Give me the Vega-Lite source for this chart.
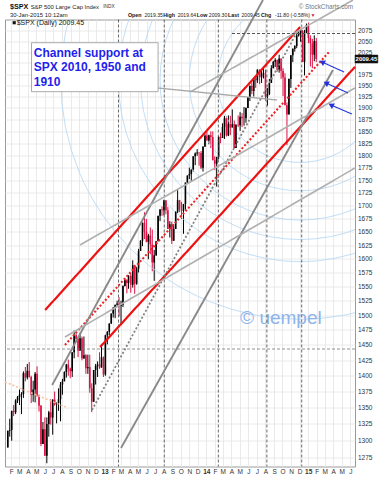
{
"$schema":"https://vega.github.io/schema/vega-lite/v6.json",
"width":350,"height":447,
"autosize":{"type":"none"},
"padding":{"left":5,"top":19.5,"right":28,"bottom":13.5},
"background":"white",
"config":{"font":"Liberation Sans","view":{"stroke":"#9a9a9a","strokeWidth":1}},
"datasets":{
"px":[
{"d":"2012-01-20","o":1290,"h":1315,"l":1290,"c":1315},{"d":"2012-01-27","o":1315,"h":1333,"l":1306,"c":1316},{"d":"2012-02-03","o":1316,"h":1345,"l":1300,"c":1345},{"d":"2012-02-10","o":1345,"h":1354,"l":1337,"c":1343},{"d":"2012-02-17","o":1343,"h":1363,"l":1340,"c":1361},{"d":"2012-02-24","o":1361,"h":1368,"l":1357,"c":1366},{"d":"2012-03-02","o":1366,"h":1378,"l":1354,"c":1370},{"d":"2012-03-09","o":1370,"h":1374,"l":1340,"c":1371},{"d":"2012-03-16","o":1371,"h":1407,"l":1365,"c":1404},{"d":"2012-03-23","o":1404,"h":1414,"l":1391,"c":1397},{"d":"2012-03-30","o":1397,"h":1419,"l":1394,"c":1408},{"d":"2012-04-06","o":1408,"h":1422,"l":1397,"c":1398},{"d":"2012-04-13","o":1398,"h":1400,"l":1357,"c":1370},{"d":"2012-04-20","o":1370,"h":1392,"l":1359,"c":1378},{"d":"2012-04-27","o":1378,"h":1406,"l":1358,"c":1403},{"d":"2012-05-04","o":1403,"h":1415,"l":1367,"c":1369},{"d":"2012-05-11","o":1369,"h":1370,"l":1344,"c":1353},{"d":"2012-05-18","o":1353,"h":1354,"l":1292,"c":1295},{"d":"2012-05-25","o":1295,"h":1328,"l":1295,"c":1317},{"d":"2012-06-01","o":1317,"h":1335,"l":1278,"c":1278},{"d":"2012-06-08","o":1278,"h":1335,"l":1267,"c":1325},{"d":"2012-06-15","o":1325,"h":1345,"l":1306,"c":1343},{"d":"2012-06-22","o":1343,"h":1363,"l":1324,"c":1335},{"d":"2012-06-29","o":1335,"h":1363,"l":1309,"c":1362},{"d":"2012-07-06","o":1362,"h":1375,"l":1353,"c":1355},{"d":"2012-07-13","o":1355,"h":1358,"l":1326,"c":1357},{"d":"2012-07-20","o":1357,"h":1380,"l":1345,"c":1363},{"d":"2012-07-27","o":1363,"h":1390,"l":1329,"c":1386},{"d":"2012-08-03","o":1386,"h":1395,"l":1370,"c":1391},{"d":"2012-08-10","o":1391,"h":1407,"l":1391,"c":1406},{"d":"2012-08-17","o":1406,"h":1419,"l":1397,"c":1418},{"d":"2012-08-24","o":1418,"h":1426,"l":1400,"c":1411},{"d":"2012-08-31","o":1411,"h":1413,"l":1396,"c":1407},{"d":"2012-09-07","o":1407,"h":1438,"l":1398,"c":1438},{"d":"2012-09-14","o":1438,"h":1474,"l":1428,"c":1466},{"d":"2012-09-21","o":1466,"h":1470,"l":1454,"c":1460},{"d":"2012-09-28","o":1460,"h":1460,"l":1430,"c":1441},{"d":"2012-10-05","o":1441,"h":1470,"l":1440,"c":1461},{"d":"2012-10-12","o":1461,"h":1464,"l":1425,"c":1428},{"d":"2012-10-19","o":1428,"h":1464,"l":1427,"c":1433},{"d":"2012-10-26","o":1433,"h":1435,"l":1403,"c":1412},{"d":"2012-11-02","o":1412,"h":1434,"l":1403,"c":1414},{"d":"2012-11-09","o":1414,"h":1434,"l":1373,"c":1380},{"d":"2012-11-16","o":1380,"h":1388,"l":1343,"c":1359},{"d":"2012-11-23","o":1359,"h":1409,"l":1359,"c":1409},{"d":"2012-11-30","o":1409,"h":1419,"l":1386,"c":1416},{"d":"2012-12-07","o":1416,"h":1423,"l":1398,"c":1418},{"d":"2012-12-14","o":1418,"h":1438,"l":1411,"c":1413},{"d":"2012-12-21","o":1413,"h":1448,"l":1413,"c":1430},{"d":"2012-12-28","o":1430,"h":1431,"l":1398,"c":1402},
{"d":"2013-01-04","o":1402,"h":1467,"l":1400,"c":1466},{"d":"2013-01-11","o":1466,"h":1473,"l":1451,"c":1472},{"d":"2013-01-18","o":1472,"h":1486,"l":1466,"c":1486},{"d":"2013-01-25","o":1486,"h":1503,"l":1485,"c":1503},{"d":"2013-02-01","o":1503,"h":1514,"l":1496,"c":1513},{"d":"2013-02-08","o":1513,"h":1518,"l":1495,"c":1518},{"d":"2013-02-15","o":1518,"h":1525,"l":1514,"c":1520},{"d":"2013-02-22","o":1520,"h":1531,"l":1498,"c":1516},{"d":"2013-03-01","o":1516,"h":1525,"l":1485,"c":1518},{"d":"2013-03-08","o":1518,"h":1552,"l":1514,"c":1551},{"d":"2013-03-15","o":1551,"h":1564,"l":1550,"c":1561},{"d":"2013-03-22","o":1561,"h":1563,"l":1538,"c":1556},{"d":"2013-03-28","o":1556,"h":1570,"l":1546,"c":1569},{"d":"2013-04-05","o":1569,"h":1573,"l":1539,"c":1553},{"d":"2013-04-12","o":1553,"h":1597,"l":1548,"c":1588},{"d":"2013-04-19","o":1588,"h":1589,"l":1537,"c":1555},{"d":"2013-04-26","o":1555,"h":1585,"l":1553,"c":1582},{"d":"2013-05-03","o":1582,"h":1618,"l":1575,"c":1614},{"d":"2013-05-10","o":1614,"h":1634,"l":1614,"c":1633},{"d":"2013-05-17","o":1633,"h":1667,"l":1623,"c":1667},{"d":"2013-05-24","o":1667,"h":1687,"l":1636,"c":1650},{"d":"2013-05-31","o":1650,"h":1674,"l":1630,"c":1631},{"d":"2013-06-07","o":1631,"h":1646,"l":1599,"c":1643},{"d":"2013-06-14","o":1643,"h":1658,"l":1608,"c":1626},{"d":"2013-06-21","o":1626,"h":1654,"l":1577,"c":1593},{"d":"2013-06-28","o":1593,"h":1616,"l":1560,"c":1606},{"d":"2013-07-05","o":1606,"h":1632,"l":1605,"c":1632},{"d":"2013-07-12","o":1632,"h":1680,"l":1632,"c":1680},{"d":"2013-07-19","o":1680,"h":1693,"l":1670,"c":1692},{"d":"2013-07-26","o":1692,"h":1698,"l":1680,"c":1691},{"d":"2013-08-02","o":1691,"h":1710,"l":1681,"c":1710},{"d":"2013-08-09","o":1710,"h":1710,"l":1683,"c":1691},{"d":"2013-08-16","o":1691,"h":1697,"l":1655,"c":1655},{"d":"2013-08-23","o":1655,"h":1670,"l":1639,"c":1664},{"d":"2013-08-30","o":1664,"h":1669,"l":1627,"c":1633},{"d":"2013-09-06","o":1633,"h":1664,"l":1633,"c":1655},{"d":"2013-09-13","o":1655,"h":1689,"l":1655,"c":1688},{"d":"2013-09-20","o":1688,"h":1730,"l":1685,"c":1710},{"d":"2013-09-27","o":1710,"h":1711,"l":1687,"c":1692},{"d":"2013-10-04","o":1692,"h":1707,"l":1674,"c":1690},{"d":"2013-10-11","o":1690,"h":1703,"l":1646,"c":1703},{"d":"2013-10-18","o":1703,"h":1745,"l":1692,"c":1745},{"d":"2013-10-25","o":1745,"h":1759,"l":1742,"c":1759},{"d":"2013-11-01","o":1759,"h":1775,"l":1752,"c":1762},{"d":"2013-11-08","o":1762,"h":1771,"l":1747,"c":1771},{"d":"2013-11-15","o":1771,"h":1798,"l":1767,"c":1798},{"d":"2013-11-22","o":1798,"h":1806,"l":1780,"c":1804},{"d":"2013-11-29","o":1804,"h":1813,"l":1799,"c":1806},{"d":"2013-12-06","o":1806,"h":1806,"l":1779,"c":1805},{"d":"2013-12-13","o":1805,"h":1809,"l":1772,"c":1775},{"d":"2013-12-20","o":1775,"h":1819,"l":1767,"c":1818},{"d":"2013-12-27","o":1818,"h":1844,"l":1818,"c":1841},
{"d":"2014-01-03","o":1841,"h":1849,"l":1831,"c":1831},{"d":"2014-01-10","o":1831,"h":1843,"l":1823,"c":1842},{"d":"2014-01-17","o":1842,"h":1850,"l":1815,"c":1838},{"d":"2014-01-24","o":1838,"h":1850,"l":1790,"c":1790},{"d":"2014-01-31","o":1790,"h":1798,"l":1770,"c":1783},{"d":"2014-02-07","o":1783,"h":1793,"l":1737,"c":1797},{"d":"2014-02-14","o":1797,"h":1840,"l":1792,"c":1838},{"d":"2014-02-21","o":1838,"h":1847,"l":1825,"c":1836},{"d":"2014-02-28","o":1836,"h":1867,"l":1836,"c":1859},{"d":"2014-03-07","o":1859,"h":1883,"l":1834,"c":1878},{"d":"2014-03-14","o":1878,"h":1882,"l":1839,"c":1841},{"d":"2014-03-21","o":1841,"h":1884,"l":1840,"c":1866},{"d":"2014-03-28","o":1866,"h":1883,"l":1842,"c":1858},{"d":"2014-04-04","o":1858,"h":1897,"l":1858,"c":1865},{"d":"2014-04-11","o":1865,"h":1873,"l":1815,"c":1815},{"d":"2014-04-17","o":1815,"h":1865,"l":1815,"c":1864},{"d":"2014-04-25","o":1864,"h":1884,"l":1859,"c":1863},{"d":"2014-05-02","o":1863,"h":1891,"l":1851,"c":1881},{"d":"2014-05-09","o":1881,"h":1889,"l":1859,"c":1878},{"d":"2014-05-16","o":1878,"h":1902,"l":1862,"c":1878},{"d":"2014-05-23","o":1878,"h":1901,"l":1868,"c":1900},{"d":"2014-05-30","o":1900,"h":1924,"l":1900,"c":1924},{"d":"2014-06-06","o":1924,"h":1949,"l":1915,"c":1949},{"d":"2014-06-13","o":1949,"h":1956,"l":1930,"c":1937},{"d":"2014-06-20","o":1937,"h":1963,"l":1925,"c":1963},{"d":"2014-06-27","o":1963,"h":1968,"l":1944,"c":1961},{"d":"2014-07-03","o":1961,"h":1985,"l":1955,"c":1985},{"d":"2014-07-11","o":1985,"h":1985,"l":1952,"c":1968},{"d":"2014-07-18","o":1968,"h":1984,"l":1955,"c":1978},{"d":"2014-07-25","o":1978,"h":1991,"l":1965,"c":1978},{"d":"2014-08-01","o":1978,"h":1985,"l":1916,"c":1925},{"d":"2014-08-08","o":1925,"h":1944,"l":1905,"c":1931},{"d":"2014-08-15","o":1931,"h":1964,"l":1928,"c":1955},{"d":"2014-08-22","o":1955,"h":1995,"l":1955,"c":1988},{"d":"2014-08-29","o":1988,"h":2005,"l":1988,"c":2003},{"d":"2014-09-05","o":2003,"h":2011,"l":1991,"c":2007},{"d":"2014-09-12","o":2007,"h":2008,"l":1980,"c":1985},{"d":"2014-09-19","o":1985,"h":2019,"l":1978,"c":2010},{"d":"2014-09-26","o":2010,"h":2010,"l":1964,"c":1982},{"d":"2014-10-03","o":1982,"h":1988,"l":1926,"c":1967},{"d":"2014-10-10","o":1967,"h":1977,"l":1906,"c":1906},{"d":"2014-10-17","o":1906,"h":1912,"l":1821,"c":1886},{"d":"2014-10-24","o":1886,"h":1965,"l":1886,"c":1964},{"d":"2014-10-31","o":1964,"h":2018,"l":1944,"c":2018},{"d":"2014-11-07","o":2018,"h":2034,"l":2002,"c":2032},{"d":"2014-11-14","o":2032,"h":2041,"l":2026,"c":2039},{"d":"2014-11-21","o":2039,"h":2071,"l":2034,"c":2064},{"d":"2014-11-28","o":2064,"h":2075,"l":2061,"c":2068},{"d":"2014-12-05","o":2068,"h":2079,"l":2049,"c":2075},{"d":"2014-12-12","o":2075,"h":2076,"l":2002,"c":2002},{"d":"2014-12-19","o":2002,"h":2077,"l":1972,"c":2071},{"d":"2014-12-26","o":2071,"h":2092,"l":2069,"c":2088},
{"d":"2015-01-02","o":2088,"h":2094,"l":2046,"c":2058},{"d":"2015-01-09","o":2058,"h":2064,"l":1992,"c":2045},{"d":"2015-01-16","o":2045,"h":2056,"l":1988,"c":2019},{"d":"2015-01-23","o":2019,"h":2064,"l":2004,"c":2051},{"d":"2015-01-30","o":2051,"h":2058,"l":2002,"c":2009}
],
"ln":[
{"id":"R1","k":"red","d":"2012-06-02","v":1508.9},{"id":"R1","k":"red","d":"2014-12-03","v":2083.8},
{"id":"R2","k":"red","d":"2012-12-16","v":1446.5},{"id":"R2","k":"red","d":"2015-06-18","v":1991.3},
{"id":"R3","k":"reddot","d":"2012-08-12","v":1449.9},{"id":"R3","k":"reddot","d":"2015-03-20","v":2027.5},
{"id":"G1","k":"gray","d":"2012-06-27","v":1385.2},{"id":"G1","k":"gray","d":"2014-07-23","v":2149},
{"id":"G2","k":"gray","d":"2013-03-01","v":1289.2},{"id":"G2","k":"gray","d":"2015-03-31","v":1984.0},
{"id":"GD","k":"graydot","d":"2012-11-17","v":1346.3},{"id":"GD","k":"graydot","d":"2014-11-26","v":2076.7},
{"id":"T1","k":"thin","d":"2012-08-12","v":1463.2},{"id":"T1","k":"thin","d":"2015-06-18","v":1774.3},
{"id":"T2","k":"thin","d":"2012-10-05","v":1625.1},{"id":"T2","k":"thin","d":"2015-06-18","v":1943.7},
{"id":"T3","k":"thin","d":"2013-11-04","v":1934.9},{"id":"T3","k":"thin","d":"2015-06-11","v":2149},
{"id":"O1","k":"orangedot","d":"2012-01-10","v":1390},{"id":"O1","k":"orangedot","d":"2012-08-23","v":1349.4},
{"id":"P1","k":"pointer","d":"2013-07-12","v":1943.7},{"id":"P1","k":"pointer","d":"2014-09-11","v":1917.3},
{"id":"H1","k":"hdash","d":"2014-04-03","v":2068.4},{"id":"H1","k":"hdash","d":"2015-06-18","v":2068.4},
{"id":"A1","k":"arrow","d":"2015-02-20","v":2002.2},{"id":"A1","k":"arrow","d":"2015-05-10","v":1979.5},
{"id":"A2","k":"arrow","d":"2015-03-06","v":1954.9},{"id":"A2","k":"arrow","d":"2015-05-24","v":1932.7},
{"id":"A3","k":"arrow","d":"2015-03-24","v":1906.4},{"id":"A3","k":"arrow","d":"2015-06-07","v":1886.9}
],
"ah":[{"d":"2015-02-20","v":2002.2},{"d":"2015-03-06","v":1954.9},{"d":"2015-03-24","v":1906.4}],
"cc":[{"d":"2014-12-03","v":1961.5}],
"vd":[{"d":"2013-02-20"},{"d":"2013-08-03"},{"d":"2014-02-13"},{"d":"2014-08-06"},{"d":"2014-12-09"}],
"hd":[{"v":1443.3}],
"rc":[{"g":"box","d":"2012-04-14","d2":"2013-07-12","v":2046.8,"v2":1935.6},{"g":"pl","d":"2015-06-18","d2":"2015-09-08","v":2018.3,"v2":1999.9}],
"tx":[
{"g":"t1","s":"$SPX","d":"2012-01-28","v":2131.9},
{"g":"hn6","s":"S&P 500 Large Cap Index","d":"2012-04-11","v":2131.9},
{"g":"hs","s":"INDX","d":"2012-12-27","v":2131.9},
{"g":"sc","s":"© StockCharts.com","d":"2015-06-11","v":2131.9},
{"g":"hn6","s":"30-Jan-2015 10:12am","d":"2012-01-28","v":2112.5},
{"g":"hb","s":"Open","d":"2013-03-26","v":2112.5},
{"g":"hn","s":"2019.35","d":"2013-05-24","v":2112.5},
{"g":"hb","s":"High","d":"2013-07-30","v":2112.5},
{"g":"hn","s":"2019.64","d":"2013-09-20","v":2112.5},
{"g":"hb","s":"Low","d":"2013-11-28","v":2112.5},
{"g":"hn","s":"2009.30","d":"2014-01-10","v":2112.5},
{"g":"hb","s":"Last","d":"2014-03-20","v":2112.5},
{"g":"hn","s":"2009.45","d":"2014-05-07","v":2112.5},
{"g":"hb","s":"Chg","d":"2014-07-16","v":2112.5},
{"g":"hn","s":"-11.80 (-0.58%)","d":"2014-09-04","v":2112.5},
{"g":"dn","s":"▼","d":"2015-01-09","v":2112.5},
{"g":"lg","s":"$SPX (Daily) 2009.45","d":"2012-02-21","v":2094.0},
{"g":"sw","s":"","d":"2012-02-12","v":2094.0},
{"g":"box","s":"Channel support at","d":"2012-04-22","v":2022.2},
{"g":"box","s":"SPX 2010, 1950 and","d":"2012-04-22","v":1990.2},
{"g":"box","s":"1910","d":"2012-04-22","v":1956.4},
{"g":"wm","s":"© uempel","d":"2014-05-02","v":1495.2},
{"g":"pl","s":"2009.45","d":"2015-07-29","v":2009.45}
]
},
"layer":[
{"data":{"name":"px"},
 "mark":{"type":"rule","strokeWidth":1,"clip":true},
 "encoding":{
  "x":{"field":"d","type":"temporal","scale":{"type":"utc","nice":false,"padding":0,"domain":[{"year":2012,"month":1,"date":10,"utc":true},{"year":2015,"month":6,"date":18,"utc":true}]},
   "axis":{"orient":"bottom","title":null,"tickCount":{"interval":"month","step":1},"labelExpr":"utcmonth(datum.value)==0 ? utcFormat(datum.value,'%y') : slice(utcFormat(datum.value,'%b'),0,1)","labelFontSize":6.5,"labelColor":"#333","labelPadding":2,"ticks":false,"domain":false,"grid":true,"gridColor":"#e4e4e4","gridWidth":0.8,"labelOverlap":false,"labelFlush":false,"labelBound":false,"labelFontWeight":{"condition":{"test":"utcmonth(datum.value)==0","value":"bold"},"value":"normal"}}},
  "y":{"field":"l","type":"quantitative","scale":{"type":"log","domain":[1262.3,2101.7],"nice":false,"zero":false,"padding":0},
   "axis":{"orient":"right","title":null,"values":[1275,1300,1325,1350,1375,1400,1425,1450,1475,1500,1525,1550,1575,1600,1625,1650,1675,1700,1725,1750,1775,1800,1825,1850,1875,1900,1925,1950,1975,2000,2025,2050,2075],"labelExpr":"datum.value==2000 ? '' : format(datum.value,'d')","labelFontSize":6.5,"labelColor":"#333","labelPadding":2.5,"ticks":false,"domain":false,"grid":true,"gridColor":"#e4e4e4","gridWidth":0.8,"labelOverlap":false,"labelBound":false}},
  "y2":{"field":"h"},
  "color":{"condition":{"test":"datum.c >= datum.o","value":"#000000"},"value":"#dd1144"}
 }},
{"data":{"name":"cc"},"mark":{"type":"point","shape":"circle","filled":false,"size":27172,"color":"#b3d5f4","strokeWidth":0.8,"opacity":1,"clip":true},"encoding":{"x":{"field":"d","type":"temporal","title":null},"y":{"field":"v","type":"quantitative","title":null}}},
{"data":{"name":"cc"},"mark":{"type":"point","shape":"circle","filled":false,"size":49087,"color":"#b3d5f4","strokeWidth":0.8,"opacity":1,"clip":true},"encoding":{"x":{"field":"d","type":"temporal","title":null},"y":{"field":"v","type":"quantitative","title":null}}},
{"data":{"name":"cc"},"mark":{"type":"point","shape":"circle","filled":false,"size":78427,"color":"#b3d5f4","strokeWidth":0.8,"opacity":1,"clip":true},"encoding":{"x":{"field":"d","type":"temporal","title":null},"y":{"field":"v","type":"quantitative","title":null}}},
{"data":{"name":"cc"},"mark":{"type":"point","shape":"circle","filled":false,"size":101788,"color":"#b3d5f4","strokeWidth":0.8,"opacity":1,"clip":true},"encoding":{"x":{"field":"d","type":"temporal","title":null},"y":{"field":"v","type":"quantitative","title":null}}},
{"data":{"name":"cc"},"mark":{"type":"point","shape":"circle","filled":false,"size":132025,"color":"#b3d5f4","strokeWidth":0.8,"opacity":1,"clip":true},"encoding":{"x":{"field":"d","type":"temporal","title":null},"y":{"field":"v","type":"quantitative","title":null}}},
{"data":{"name":"cc"},"mark":{"type":"point","shape":"circle","filled":false,"size":229022,"color":"#b3d5f4","strokeWidth":0.8,"opacity":1,"clip":true},"encoding":{"x":{"field":"d","type":"temporal","title":null},"y":{"field":"v","type":"quantitative","title":null}}},
{"data":{"name":"tx"},"transform":[{"filter":"datum.g=='wm'"}],"mark":{"type":"text","align":"left","baseline":"middle","fontSize":19,"color":"#8fb4ea"},"encoding":{"x":{"field":"d","type":"temporal","title":null},"y":{"field":"v","type":"quantitative","title":null},"text":{"field":"s"}}},
{"data":{"name":"px"},
 "mark":{"type":"bar","size":1.6,"clip":true},
 "encoding":{
  "x":{"field":"d","type":"temporal","title":null},
  "y":{"field":"o","type":"quantitative","title":null},
  "y2":{"field":"c"},
  "color":{"condition":{"test":"datum.c >= datum.o","value":"#000000"},"value":"#dd1144"}
 }},
{"data":{"name":"vd"},"mark":{"type":"rule","color":"#444","strokeWidth":0.8,"strokeDash":[3,2]},"encoding":{"x":{"field":"d","type":"temporal","title":null}}},
{"data":{"name":"hd"},"mark":{"type":"rule","color":"#777","strokeWidth":0.8,"strokeDash":[3,2]},"encoding":{"y":{"field":"v","type":"quantitative","title":null}}},
{"data":{"name":"ln"},
 "mark":{"type":"line","clip":false},
 "encoding":{
  "x":{"field":"d","type":"temporal","title":null},
  "y":{"field":"v","type":"quantitative","title":null},
  "detail":{"field":"id"},
  "color":{"field":"k","type":"nominal","legend":null,"scale":{"domain":["red","reddot","gray","graydot","thin","orangedot","pointer","hdash","arrow"],"range":["#ee1111","#ee2222","#8a8a8a","#808080","#b0b0b0","#f7c09a","#a8a8a8","#555555","#2233dd"]}},
  "strokeWidth":{"field":"k","type":"nominal","legend":null,"scale":{"domain":["red","reddot","gray","graydot","thin","orangedot","pointer","hdash","arrow"],"range":[2.2,1.1,3.6,1.3,0.8,1.1,2.6,0.8,1.6]}},
  "strokeDash":{"field":"k","type":"nominal","legend":null,"scale":{"domain":["red","reddot","gray","graydot","thin","orangedot","pointer","hdash","arrow"],"range":[[1,0],[2,2],[1,0],[2,2],[1,0],[2,2],[1,0],[3,2],[1,0]]}}
 }},
{"data":{"name":"ah"},"mark":{"type":"point","shape":"triangle-left","angle":28,"size":40,"filled":true,"color":"#2233dd","opacity":1},"encoding":{"x":{"field":"d","type":"temporal","title":null},"y":{"field":"v","type":"quantitative","title":null}}},
{"data":{"name":"rc"},"transform":[{"filter":"datum.g=='box'"}],"mark":{"type":"rect","fill":"white","stroke":"#aaaaaa","strokeWidth":1},"encoding":{"x":{"field":"d","type":"temporal","title":null},"x2":{"field":"d2"},"y":{"field":"v","type":"quantitative","title":null},"y2":{"field":"v2"}}},
{"data":{"name":"rc"},"transform":[{"filter":"datum.g=='pl'"}],"mark":{"type":"rect","fill":"#111111","stroke":"#111111","strokeWidth":0.5},"encoding":{"x":{"field":"d","type":"temporal","title":null},"x2":{"field":"d2"},"y":{"field":"v","type":"quantitative","title":null},"y2":{"field":"v2"}}},
{"data":{"name":"tx"},"transform":[{"filter":"datum.g=='box'"}],"mark":{"type":"text","align":"left","baseline":"middle","fontSize":12,"fontWeight":"bold","color":"#1f1fee"},"encoding":{"x":{"field":"d","type":"temporal","title":null},"y":{"field":"v","type":"quantitative","title":null},"text":{"field":"s"}}},
{"data":{"name":"tx"},"transform":[{"filter":"datum.g=='pl'"}],"mark":{"type":"text","align":"center","baseline":"middle","fontSize":6,"fontWeight":"bold","color":"white"},"encoding":{"x":{"field":"d","type":"temporal","title":null},"y":{"field":"v","type":"quantitative","title":null},"text":{"field":"s"}}},
{"data":{"name":"tx"},"transform":[{"filter":"datum.g=='t1'"}],"mark":{"type":"text","align":"left","baseline":"middle","fontSize":7.2,"fontWeight":"bold","color":"#111"},"encoding":{"x":{"field":"d","type":"temporal","title":null},"y":{"field":"v","type":"quantitative","title":null},"text":{"field":"s"}}},
{"data":{"name":"tx"},"transform":[{"filter":"datum.g=='hn6'"}],"mark":{"type":"text","align":"left","baseline":"middle","fontSize":5.9,"color":"#222"},"encoding":{"x":{"field":"d","type":"temporal","title":null},"y":{"field":"v","type":"quantitative","title":null},"text":{"field":"s"}}},
{"data":{"name":"tx"},"transform":[{"filter":"datum.g=='hn'"}],"mark":{"type":"text","align":"left","baseline":"middle","fontSize":5.1,"color":"#222"},"encoding":{"x":{"field":"d","type":"temporal","title":null},"y":{"field":"v","type":"quantitative","title":null},"text":{"field":"s"}}},
{"data":{"name":"tx"},"transform":[{"filter":"datum.g=='hb'"}],"mark":{"type":"text","align":"left","baseline":"middle","fontSize":5.3,"fontWeight":"bold","color":"#111"},"encoding":{"x":{"field":"d","type":"temporal","title":null},"y":{"field":"v","type":"quantitative","title":null},"text":{"field":"s"}}},
{"data":{"name":"tx"},"transform":[{"filter":"datum.g=='hs'"}],"mark":{"type":"text","align":"left","baseline":"middle","fontSize":4.8,"color":"#333"},"encoding":{"x":{"field":"d","type":"temporal","title":null},"y":{"field":"v","type":"quantitative","title":null},"text":{"field":"s"}}},
{"data":{"name":"tx"},"transform":[{"filter":"datum.g=='sc'"}],"mark":{"type":"text","align":"right","baseline":"middle","fontSize":6.3,"color":"#777"},"encoding":{"x":{"field":"d","type":"temporal","title":null},"y":{"field":"v","type":"quantitative","title":null},"text":{"field":"s"}}},
{"data":{"name":"tx"},"transform":[{"filter":"datum.g=='dn'"}],"mark":{"type":"text","align":"left","baseline":"middle","fontSize":5,"color":"#dd1144"},"encoding":{"x":{"field":"d","type":"temporal","title":null},"y":{"field":"v","type":"quantitative","title":null},"text":{"field":"s"}}},
{"data":{"name":"tx"},"transform":[{"filter":"datum.g=='lg'"}],"mark":{"type":"text","align":"left","baseline":"middle","fontSize":7,"color":"#111"},"encoding":{"x":{"field":"d","type":"temporal","title":null},"y":{"field":"v","type":"quantitative","title":null},"text":{"field":"s"}}},
{"data":{"name":"tx"},"transform":[{"filter":"datum.g=='sw'"}],"mark":{"type":"point","shape":"square","size":10,"filled":true,"color":"#111","opacity":1},"encoding":{"x":{"field":"d","type":"temporal","title":null},"y":{"field":"v","type":"quantitative","title":null}}}
]
}
